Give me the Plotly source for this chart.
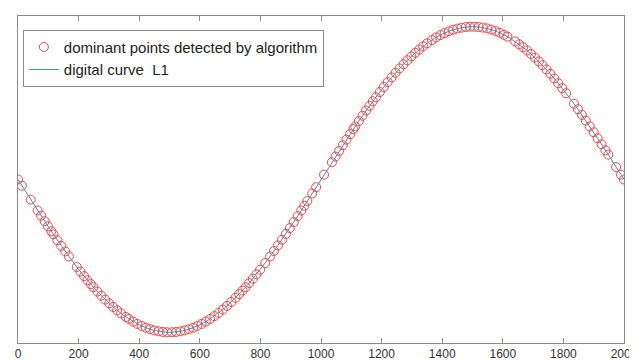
import plotly.graph_objects as go

# digital curve L1 (sampled every 25 units)
curve_x = list(range(0, 2001, 25))
curve_y = [
    0.0, -0.0785, -0.1564, -0.2334, -0.3090, -0.3827, -0.4540, -0.5225, -0.5878, -0.6494,
    -0.7071, -0.7604, -0.8090, -0.8526, -0.8910, -0.9239, -0.9511, -0.9724, -0.9877, -0.9969,
    -1.0, -0.9969, -0.9877, -0.9724, -0.9511, -0.9239, -0.8910, -0.8526, -0.8090, -0.7604,
    -0.7071, -0.6494, -0.5878, -0.5225, -0.4540, -0.3827, -0.3090, -0.2334, -0.1564, -0.0785,
    0.0, 0.0785, 0.1564, 0.2334, 0.3090, 0.3827, 0.4540, 0.5225, 0.5878, 0.6494,
    0.7071, 0.7604, 0.8090, 0.8526, 0.8910, 0.9239, 0.9511, 0.9724, 0.9877, 0.9969,
    1.0, 0.9969, 0.9877, 0.9724, 0.9511, 0.9239, 0.8910, 0.8526, 0.8090, 0.7604,
    0.7071, 0.6494, 0.5878, 0.5225, 0.4540, 0.3827, 0.3090, 0.2334, 0.1564, 0.0785,
    0.0,
]

# dominant points detected by algorithm
dom_x = [
    0, 13, 42,
    65, 76, 88, 99, 110,
    117, 130, 143, 156, 168,
    194, 206, 218, 229, 240,
    249, 262, 275, 288, 301, 314, 327, 340, 356,
    366, 380, 394, 408, 422, 436, 450, 464, 478, 492,
    508, 522, 536, 550, 564, 578, 592, 606, 620, 634, 648, 662, 676, 690, 704, 718, 730, 741,
    751, 763, 775, 787, 799, 816,
    832, 845, 858, 871, 884, 897, 910, 923, 935,
    945, 955, 971, 984, 1010,
    1036, 1048, 1060, 1072, 1084, 1096, 1107,
    1113, 1125, 1137, 1149, 1160, 1171,
    1181, 1194, 1207, 1220, 1233, 1246, 1259, 1272, 1285, 1298, 1311, 1324, 1337, 1350,
    1366, 1380, 1394, 1408, 1422, 1436, 1450, 1464, 1478, 1492, 1506, 1520, 1534, 1548,
    1562, 1576, 1590, 1604, 1615,
    1641, 1654, 1667, 1680, 1693, 1706, 1719, 1731,
    1744, 1757, 1770, 1783, 1796, 1809,
    1835, 1848, 1861, 1874,
    1887, 1900, 1913, 1926, 1939,
    1948, 1974, 1990, 2000,
]
dom_y = [
    0.0, -0.0408, -0.1316,
    -0.2028, -0.2365, -0.2729, -0.3061, -0.3387,
    -0.3593, -0.3971, -0.4343, -0.4706, -0.5036,
    -0.5724, -0.6029, -0.6325, -0.6589, -0.6845,
    -0.7049, -0.7333, -0.7604, -0.7862, -0.8108, -0.8341, -0.8559, -0.8763, -0.8994,
    -0.9127, -0.9298, -0.9451, -0.9585, -0.9701, -0.9799, -0.9877, -0.9936, -0.9976, -0.9997,
    -0.9997, -0.9976, -0.9936, -0.9877, -0.9799, -0.9701, -0.9585, -0.9451, -0.9298, -0.9127,
    -0.8939, -0.8732, -0.8510, -0.8271, -0.8016, -0.7745, -0.7501, -0.7269,
    -0.7049, -0.6777, -0.6494, -0.6202, -0.5904, -0.5464,
    -0.5036, -0.4679, -0.4314, -0.3942, -0.3564, -0.3179, -0.2790, -0.2396, -0.2028,
    -0.1719, -0.1409, -0.0910, -0.0502, 0.0314,
    0.1129, 0.1502, 0.1874, 0.2243, 0.2608, 0.2970, 0.3298,
    0.3475, 0.3827, 0.4173, 0.4512, 0.4818, 0.5117,
    0.5385, 0.5724, 0.6053, 0.6374, 0.6684, 0.6982, 0.7269, 0.7542, 0.7804, 0.8053, 0.8289,
    0.8510, 0.8717, 0.8910,
    0.9127, 0.9298, 0.9451, 0.9585, 0.9701, 0.9799, 0.9877, 0.9936, 0.9976, 0.9997, 0.9998,
    0.9980, 0.9943, 0.9887,
    0.9811, 0.9716, 0.9603, 0.9471, 0.9354,
    0.9035, 0.8852, 0.8655, 0.8443, 0.8217, 0.7978, 0.7725, 0.7480,
    0.7204, 0.6914, 0.6613, 0.6301, 0.5979, 0.5646,
    0.4955, 0.4596, 0.4229, 0.3856,
    0.3475, 0.3090, 0.2699, 0.2304, 0.1905,
    0.1626, 0.0816, 0.0314, 0.0,
]

x_ticks = [0, 200, 400, 600, 800, 1000, 1200, 1400, 1600, 1800, 2000]

fig = go.Figure()
fig.add_trace(go.Scatter(
    x=dom_x, y=dom_y, mode="markers",
    name="dominant points detected by algorithm",
    marker=dict(symbol="circle-open", size=9, color="rgb(236,70,70)",
                line=dict(width=1, color="rgb(236,70,70)")),
))
fig.add_trace(go.Scatter(
    x=curve_x, y=curve_y, mode="lines",
    name="digital curve  L1",
    line=dict(color="rgb(60,140,190)", width=1),
))

axis_common = dict(showline=True, linecolor="#8a8a8a", linewidth=1,
                   showgrid=False, zeroline=False)
fig.update_layout(
    width=637, height=360,
    margin=dict(l=8, r=11, t=7, b=21),
    paper_bgcolor="white", plot_bgcolor="white",
    font=dict(family="Liberation Sans, Arial, sans-serif", color="#333333"),
    xaxis=dict(range=[0, 2000], tickvals=x_ticks, ticktext=[str(v) for v in x_ticks],
               ticks="inside", ticklen=5, tickcolor="#8a8a8a", tickwidth=1, mirror="ticks",
               ticklabeloverflow="allow",
               tickfont=dict(size=12, color="#333333"), **axis_common),
    yaxis=dict(range=[-1.07, 1.07], showticklabels=False, ticks="", mirror=True,
               **axis_common),
    legend=dict(x=0.008, y=0.958, xanchor="left", yanchor="top",
                bordercolor="#8a8a8a", borderwidth=1, bgcolor="white",
                entrywidth=300, entrywidthmode="pixels",
                font=dict(size=15, color="#222222"), tracegroupgap=0),
    showlegend=True,
)

fig.write_html("out.html")
